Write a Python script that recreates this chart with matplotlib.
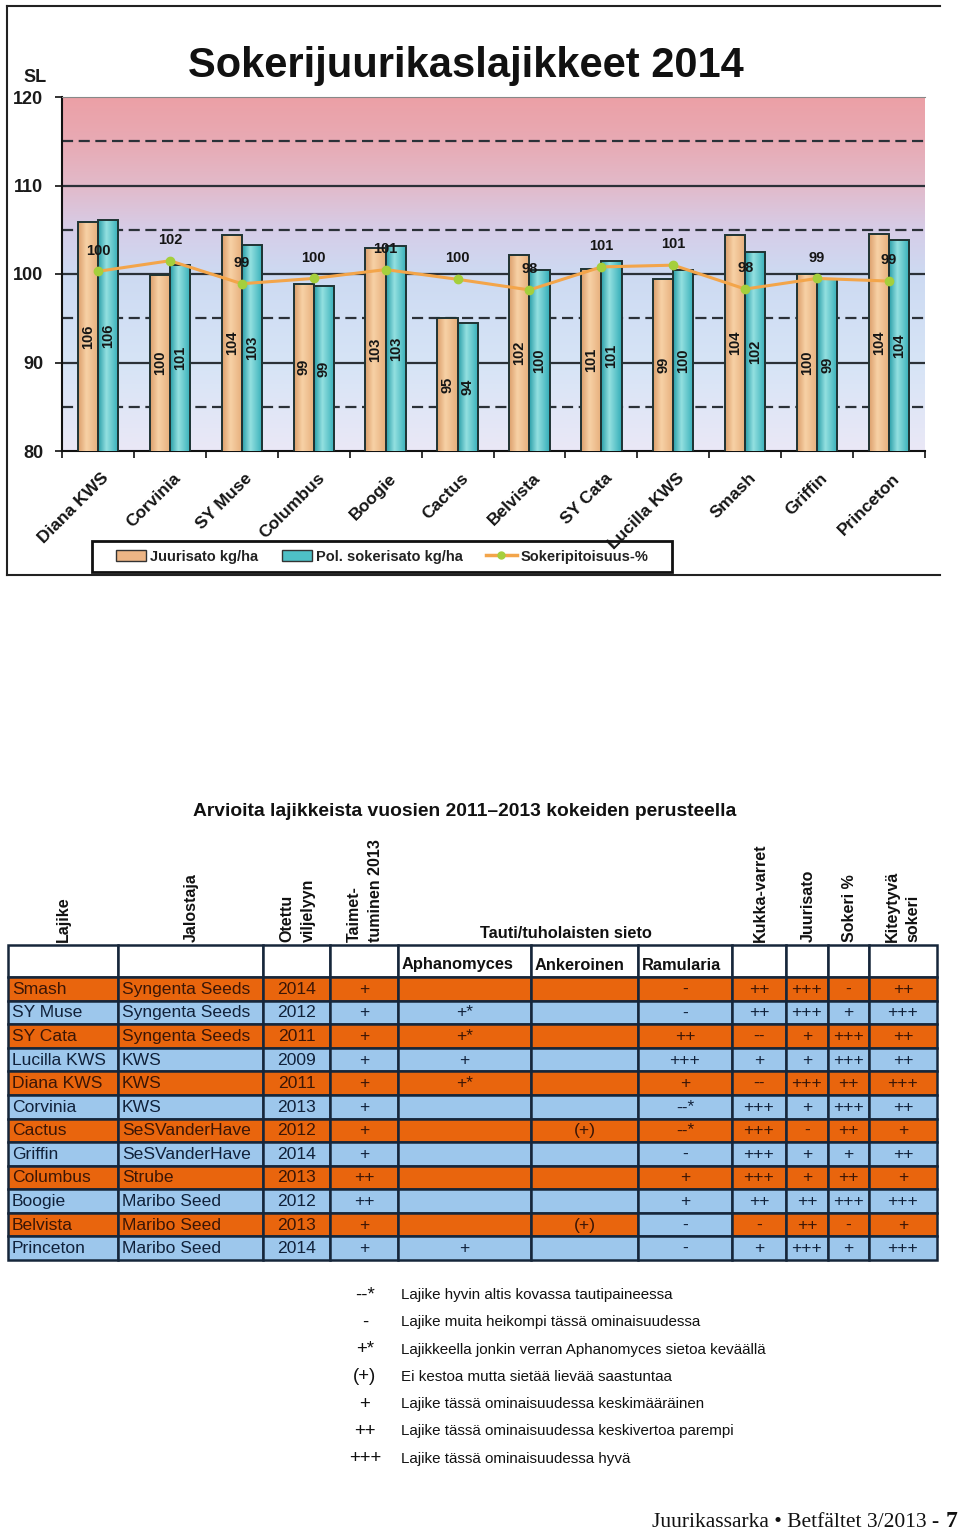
import matplotlib
matplotlib.use('Agg')
import matplotlib.pyplot as plt
import numpy as np
from matplotlib import font_manager as fm
from matplotlib.patches import Rectangle, Patch
from matplotlib.lines import Line2D
from matplotlib.transforms import ScaledTranslation

# ---------------- chart data ----------------
chart_varieties = ['Diana KWS', 'Corvinia', 'SY Muse', 'Columbus', 'Boogie', 'Cactus',
                   'Belvista', 'SY Cata', 'Lucilla KWS', 'Smash', 'Griffin', 'Princeton']
root_yield_index = [105.9, 99.9, 104.4, 98.9, 102.9, 95.0, 102.2, 100.6, 99.4, 104.4, 100.0, 104.5]
root_yield_labels = [106, 100, 104, 99, 103, 95, 102, 101, 99, 104, 100, 104]
sugar_yield_index = [106.1, 101.0, 103.3, 98.6, 103.2, 94.5, 100.5, 101.5, 100.5, 102.5, 99.4, 103.8]
sugar_yield_labels = [106, 101, 103, 99, 103, 94, 100, 101, 100, 102, 99, 104]
sugar_content_index = [100.3, 101.5, 98.9, 99.5, 100.5, 99.4, 98.2, 100.8, 101.0, 98.3, 99.5, 99.2]
sugar_content_labels = [100, 102, 99, 100, 101, 100, 98, 101, 101, 98, 99, 99]
y_ticks = [80, 90, 100, 110, 120]
legend_labels = ['Juurisato kg/ha', 'Pol. sokerisato kg/ha', 'Sokeripitoisuus-%']

# ---------------- table data ----------------
varieties = ['Smash', 'SY Muse', 'SY Cata', 'Lucilla KWS', 'Diana KWS', 'Corvinia', 'Cactus',
             'Griffin', 'Columbus', 'Boogie', 'Belvista', 'Princeton']
breeders = ['Syngenta Seeds', 'Syngenta Seeds', 'Syngenta Seeds', 'KWS', 'KWS', 'KWS',
            'SeSVanderHave', 'SeSVanderHave', 'Strube', 'Maribo Seed', 'Maribo Seed', 'Maribo Seed']
years = ['2014', '2012', '2011', '2009', '2011', '2013', '2012', '2014', '2013', '2012', '2013', '2014']
emergence = ['+', '+', '+', '+', '+', '+', '+', '+', '++', '++', '+', '+']
aphanomyces = ['', '+*', '+*', '+', '+*', '', '', '', '', '', '', '+']
ankeroinen = ['', '', '', '', '', '', '(+)', '', '', '', '(+)', '']
ramularia = ['-', '-', '++', '+++', '+', '--*', '--*', '-', '+', '+', '-', '-']
bolters = ['++', '++', '--', '+', '--', '+++', '+++', '+++', '+++', '++', '-', '+']
root_yield = ['+++', '+++', '+', '+', '+++', '+', '-', '+', '+', '++', '++', '+++']
sugar_pct = ['-', '+', '+++', '+++', '++', '+++', '++', '+', '++', '+++', '-', '+']
white_sugar = ['++', '+++', '++', '++', '+++', '++', '+', '++', '+', '+++', '+', '+++']
rot_headers = ['Lajike', 'Jalostaja', 'Otettu\nviljelyyn', 'Taimet-\ntuminen 2013',
               'Kukka-varret', 'Juurisato', 'Sokeri %', 'Kiteytyvä\nsokeri']
sub_headers = ['Aphanomyces', 'Ankeroinen', 'Ramularia']
group_header = 'Tauti/tuholaisten sieto'
table_title = 'Arvioita lajikkeista vuosien 2011\u20132013 kokeiden perusteella'
legend_symbols = ['--*', '-', '+*', '(+)', '+', '++', '+++']
legend_texts = ['Lajike hyvin altis kovassa tautipaineessa',
                'Lajike muita heikompi tässä ominaisuudessa',
                'Lajikkeella jonkin verran Aphanomyces sietoa keväällä',
                'Ei kestoa mutta sietää lievää saastuntaa',
                'Lajike tässä ominaisuudessa keskimääräinen',
                'Lajike tässä ominaisuudessa keskivertoa parempi',
                'Lajike tässä ominaisuudessa hyvä']

# ---------------- fonts ----------------
names = {f.name for f in fm.fontManager.ttflist}
if 'Liberation Sans Narrow' in names:
    NARROW = ['Liberation Sans Narrow', 'DejaVu Sans']
    ns, nb = 1.0, 1.0
else:
    NARROW = ['Liberation Sans', 'DejaVu Sans']
    ns, nb = 0.9, 0.84
SANS = ['Liberation Sans', 'DejaVu Sans']
SERIF = ['Liberation Serif', 'DejaVu Serif']
plt.rcParams['font.family'] = SANS

W, H = 960, 1532
fig = plt.figure(figsize=(W / 100, H / 100), dpi=100)
fig.patch.set_facecolor('white')


def fx(px):
    return px / W


def fy(py):
    return 1 - py / H


ov = fig.add_axes([0, 0, 1, 1], zorder=0)
ov.set_xlim(0, W)
ov.set_ylim(H, 0)
ov.axis('off')

# ---------------- chart ----------------
ax = fig.add_axes([fx(62), fy(451), (925 - 62) / W, (451 - 97) / H], zorder=2)
ax.set_facecolor('none')
n = len(chart_varieties)
x = np.arange(n)

# background gradient
stops_v = [80, 90, 100, 105, 110, 115, 120]
stops_c = np.array([(234, 232, 246), (214, 228, 246), (205, 218, 242), (214, 205, 232),
                    (226, 186, 202), (232, 170, 180), (236, 160, 166)]) / 255.0
yy = np.linspace(80, 120, 400)
grad = np.stack([np.interp(yy, stops_v, stops_c[:, k]) for k in range(3)], axis=-1)[:, None, :]
ax.imshow(grad, extent=(-0.5, n - 0.5, 80, 120), origin='lower', aspect='auto',
          zorder=0, interpolation='bilinear')

for yv in [90, 100, 110]:
    ax.axhline(yv, color='#2b3138', lw=1.6, zorder=1)
for yv in [85, 95, 105, 115]:
    ax.axhline(yv, color='#2b3138', lw=1.6, ls=(0, (5, 2.5)), zorder=1)

bw = 0.28
b1 = ax.bar(x - bw / 2, root_yield_index, width=bw, color='#EDB585', edgecolor='none', zorder=3)
b2 = ax.bar(x + bw / 2, sugar_yield_index, width=bw, color='#4EC0C6', edgecolor='none', zorder=3)

# cylindrical shading
shade_o = np.array([(0.86, 0.62, 0.42), (0.97, 0.82, 0.65), (0.90, 0.68, 0.48)])
shade_t = np.array([(0.16, 0.62, 0.66), (0.58, 0.88, 0.88), (0.20, 0.68, 0.72)])
xs = np.linspace(0, 1, 50)
for bars, sh in [(b1, shade_o), (b2, shade_t)]:
    row = np.stack([np.interp(xs, [0, 0.4, 1], sh[:, k]) for k in range(3)], axis=-1)[None, :, :]
    for p in bars:
        x0 = p.get_x()
        im = ax.imshow(row, extent=(x0, x0 + p.get_width(), 80, p.get_height()),
                       aspect='auto', zorder=3.2, interpolation='bilinear')
        im.set_clip_path(p)
ax.bar(x - bw / 2, root_yield_index, width=bw, facecolor='none', edgecolor='#1f3333', lw=1.4, zorder=4)
ax.bar(x + bw / 2, sugar_yield_index, width=bw, facecolor='none', edgecolor='#1f3333', lw=1.4, zorder=4)

for i in range(n):
    ax.text(x[i] - bw / 2, (80 + root_yield_index[i]) / 2, str(root_yield_labels[i]), rotation=90,
            ha='center', va='center', fontsize=10.5, fontweight='bold', color='#151515', zorder=5)
    ax.text(x[i] + bw / 2, (80 + sugar_yield_index[i]) / 2, str(sugar_yield_labels[i]), rotation=90,
            ha='center', va='center', fontsize=10.5, fontweight='bold', color='#151515', zorder=5)

ax.plot(x, sugar_content_index, color='#F3A54A', lw=2.2, zorder=5, marker='o', ms=6,
        mfc='#A5CF3C', mec='#A5CF3C')
for i in range(n):
    ax.annotate(str(sugar_content_labels[i]), (x[i], sugar_content_index[i]), xytext=(0, 15),
                textcoords='offset points', ha='center', va='center', fontsize=10.5,
                fontweight='bold', color='#151515', zorder=6)

ax.set_xlim(-0.5, n - 0.5)
ax.set_ylim(80, 120)
ax.set_yticks(y_ticks)
ax.set_yticklabels([str(v) for v in y_ticks], fontsize=13, fontweight='bold', color='#1a1a1a')
ax.tick_params(axis='y', length=5, width=1.2, pad=8.5, color='#111')
ax.set_xticks(x)
ax.set_xticklabels(chart_varieties, rotation=45, ha='right', rotation_mode='anchor',
                   fontsize=12.5, fontweight='bold', color='#151515')
ax.tick_params(axis='x', which='major', length=0, pad=14)
ax.set_xticks(np.arange(-0.5, n, 1), minor=True)
ax.tick_params(axis='x', which='minor', length=5, width=1.2, color='#111')
for lbl in ax.get_xticklabels():
    lbl.set_transform(lbl.get_transform() + ScaledTranslation(3 / 100, 0, fig.dpi_scale_trans))
ax.spines['right'].set_visible(False)
ax.spines['top'].set_color('#888888')
ax.spines['top'].set_linewidth(0.8)
for s in ['left', 'bottom']:
    ax.spines[s].set_color('#111111')
    ax.spines[s].set_linewidth(1.5)

ov.text(35, 78, 'SL', ha='center', va='center', fontsize=13, fontweight='bold', color='#1a1a1a')
ov.text(466, 77, 'Sokerijuurikaslajikkeet 2014', ha='center', va='baseline', fontsize=30,
        fontweight='bold', color='#111111')

# chart legend
ov.add_patch(Rectangle((92, 541), 580, 31, fill=False, ec='#111111', lw=2, zorder=1))
handles = [Patch(facecolor='#EDB585', edgecolor='#333333'),
           Patch(facecolor='#4EC0C6', edgecolor='#333333'),
           Line2D([0], [0], color='#F3A54A', lw=2.5, marker='o', ms=5, mfc='#A5CF3C', mec='#A5CF3C')]
fig.legend(handles, legend_labels, loc='center', bbox_to_anchor=(fx(382), fy(556.5)), ncol=3,
           frameon=False, prop={'weight': 'bold', 'size': 10.5, 'family': SANS},
           handlelength=2.1, handleheight=0.7, handletextpad=0.25, columnspacing=1.6,
           labelcolor='#222222')

# chart frame
for xs_, ys_ in [([7, 940], [6, 6]), ([7, 7], [6, 575]), ([7, 940], [575, 575])]:
    ov.plot(xs_, ys_, color='#222222', lw=1.5)

# ---------------- table ----------------
ov.text(465, 812, table_title, ha='center', va='center', fontsize=16.5 * nb, fontweight='bold',
        family=NARROW, color='#111111')

rot_x = [63, 191, 297.5, 364.5, 760, 808, 849, 902.5]
for txt, xp in zip(rot_headers, rot_x):
    ov.text(xp, 942, txt, rotation=90, ha='center', va='bottom', fontsize=11.5, fontweight='bold',
            color='#111111', linespacing=1.5, multialignment='left')
ov.text(566, 933, group_header, ha='center', va='center', fontsize=14 * nb, fontweight='bold',
        family=NARROW, color='#111111')

col_edges = [8, 118, 263, 330, 398, 531, 638, 732, 786, 828, 869, 937]
header_top, row_top = 945, 977
row_h = (1260 - 977) / 12
line_c = '#16263a'
for c in range(len(col_edges) - 1):
    ov.add_patch(Rectangle((col_edges[c], header_top), col_edges[c + 1] - col_edges[c],
                           row_top - header_top, facecolor='white', edgecolor=line_c, lw=1.8))
for k, txt in enumerate(sub_headers):
    ov.text(col_edges[4 + k] + 4, 965, txt, ha='left', va='center', fontsize=14 * nb,
            fontweight='bold', family=NARROW, color='#111111')

columns = [varieties, breeders, years, emergence, aphanomyces, ankeroinen, ramularia,
           bolters, root_yield, sugar_pct, white_sugar]
ORANGE, BLUE = '#E9650D', '#9DC7EC'
blue_override = {(10, 6)}
for r in range(len(varieties)):
    y0 = row_top + r * row_h
    for c in range(len(columns)):
        is_orange = (r % 2 == 0) and (r, c) not in blue_override
        fc = ORANGE if is_orange else BLUE
        tc = '#3b1606' if is_orange else '#10213a'
        ov.add_patch(Rectangle((col_edges[c], y0), col_edges[c + 1] - col_edges[c], row_h,
                               facecolor=fc, edgecolor=line_c, lw=1.8))
        val = columns[c][r]
        if not val:
            continue
        if c < 2:
            ov.text(col_edges[c] + 4, y0 + row_h / 2 + 0.5, val, ha='left', va='center',
                    fontsize=14 * ns, family=NARROW, color=tc)
        else:
            ov.text((col_edges[c] + col_edges[c + 1]) / 2, y0 + row_h / 2 + 0.5, val,
                    ha='center', va='center', fontsize=14 * ns, family=NARROW, color=tc)

# symbol legend
for k, (sym, txt) in enumerate(zip(legend_symbols, legend_texts)):
    yk = 1295 + k * 27.3
    ov.text(365, yk, sym, ha='center', va='center', fontsize=16 * nb, family=NARROW, color='#111111')
    ov.text(401, yk, txt, ha='left', va='center', fontsize=13 * nb, family=NARROW, color='#111111')

# footer
ov.text(939, 1527, 'Juurikassarka \u2022 Betfältet 3/2013 -', ha='right', va='baseline',
        fontsize=15.5, family=SERIF, color='#111111')
ov.text(946, 1527, '7', ha='left', va='baseline', fontsize=17, fontweight='bold', family=SERIF,
        color='#111111')

fig.savefig('out.png', dpi=100)
